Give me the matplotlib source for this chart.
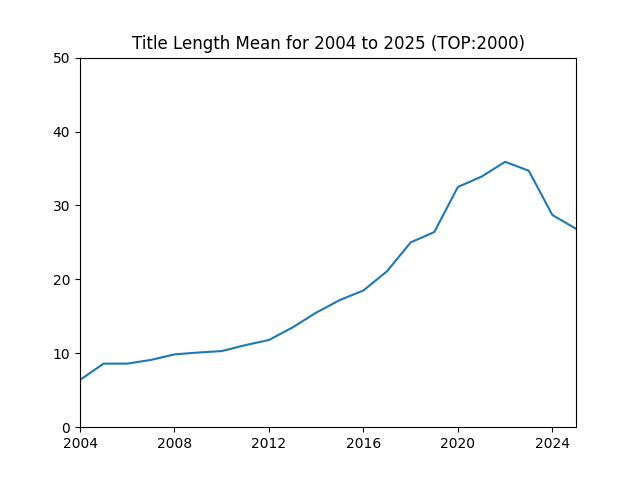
import matplotlib
matplotlib.use("Agg")
import matplotlib.pyplot as plt

years = list(range(2004, 2026))
title_len_mean = [6.4, 8.6, 8.6, 9.1, 9.85, 10.1, 10.3, 11.1, 11.8, 13.5, 15.5,
                  17.2, 18.5, 21.1, 25.0, 26.4, 32.5, 33.9, 35.9, 34.7, 28.7, 26.85]

fig, ax = plt.subplots(figsize=(6.4, 4.8), dpi=100)
ax.plot(years, title_len_mean)
ax.set_title("Title Length Mean for 2004 to 2025 (TOP:2000)")
ax.set_xlim(2004, 2025)
ax.set_ylim(0, 50)
ax.set_xticks(range(2004, 2026, 4))
fig.savefig("out.png")
